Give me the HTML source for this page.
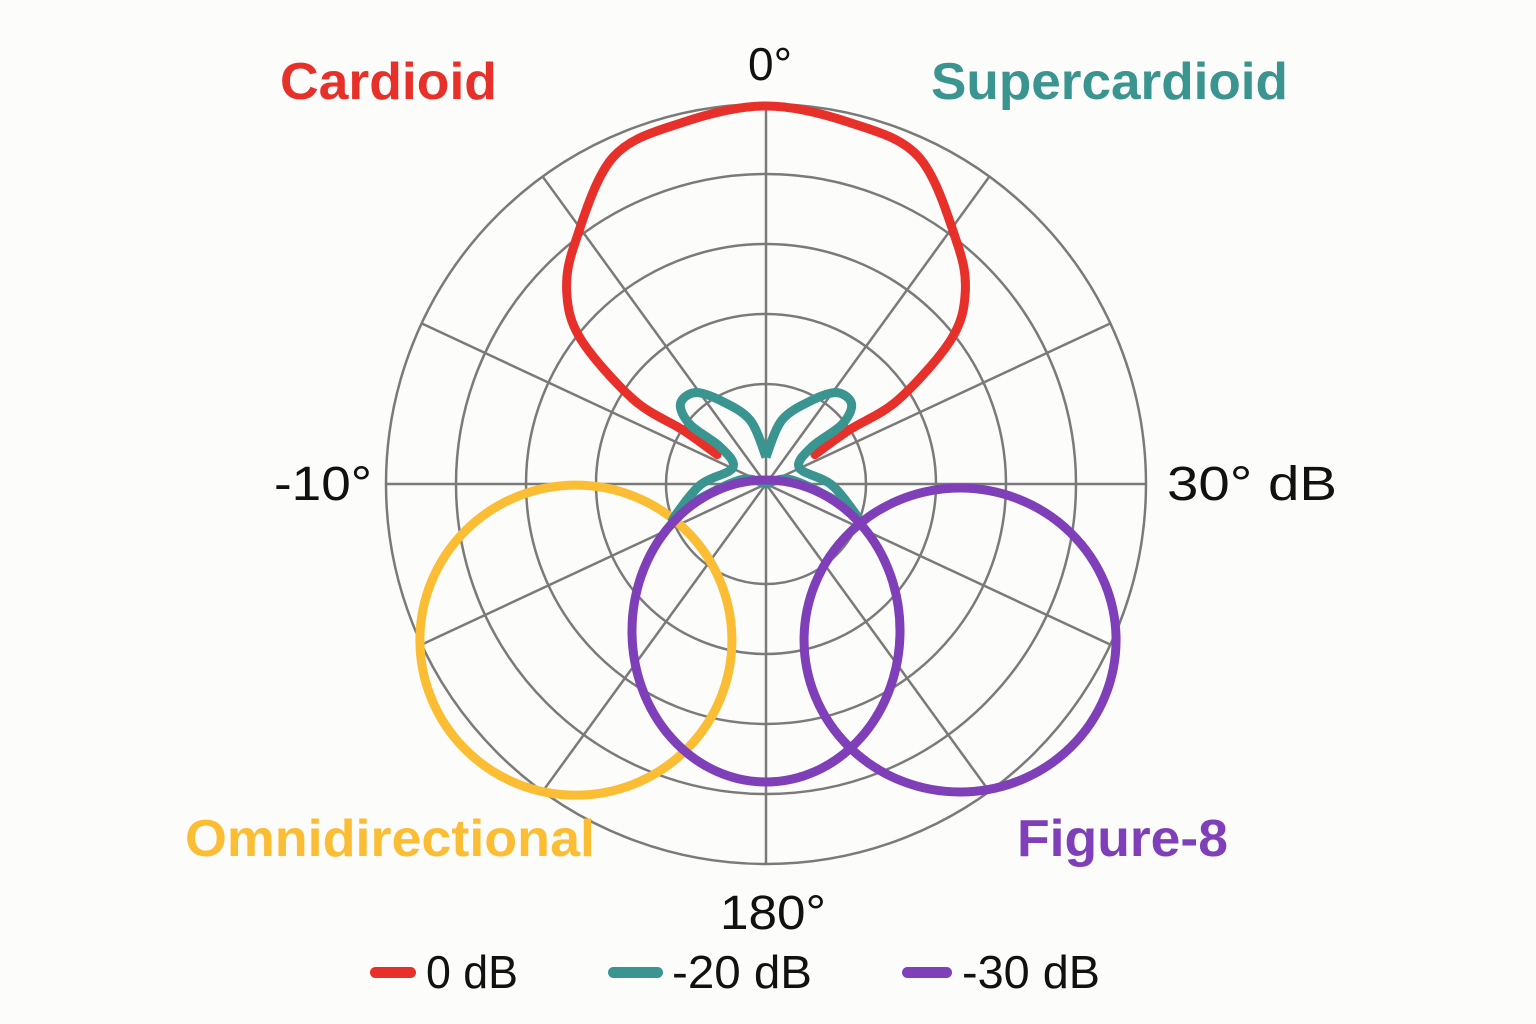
<!DOCTYPE html>
<html><head><meta charset="utf-8"><style>
html,body{margin:0;padding:0;background:#fcfcfb;}
svg{display:block;}
text{font-family:"Liberation Sans","DejaVu Sans",sans-serif;}
</style></head><body>
<svg id="chart" width="1536" height="1024" viewBox="0 0 1536 1024" xmlns="http://www.w3.org/2000/svg">
<rect width="1536" height="1024" fill="#fcfcfb"/>
<g id="grid"></g>
<g id="series"></g>
<g>
<text x="770" y="80" font-size="46" text-anchor="middle" fill="#111">0°</text>
<text x="280" y="99" font-size="52" font-weight="bold" fill="#e8302a" textLength="217" lengthAdjust="spacingAndGlyphs">Cardioid</text>
<text x="931" y="99" font-size="52" font-weight="bold" fill="#3a9490" textLength="357" lengthAdjust="spacingAndGlyphs">Supercardioid</text>
<text x="274" y="500" font-size="48" fill="#111" textLength="98" lengthAdjust="spacingAndGlyphs">-10°</text>
<text x="1167" y="500" font-size="48" fill="#111" textLength="170" lengthAdjust="spacingAndGlyphs">30°  dB</text>
<text x="185" y="856" font-size="52" font-weight="bold" fill="#fbbd33" textLength="410" lengthAdjust="spacingAndGlyphs">Omnidirectional</text>
<text x="1017" y="856" font-size="52" font-weight="bold" fill="#7f3fb8" textLength="211" lengthAdjust="spacingAndGlyphs">Figure-8</text>
<text x="720" y="929" font-size="48" fill="#111" textLength="106" lengthAdjust="spacingAndGlyphs">180°</text>
</g>
<g>
<g>
<rect x="370" y="967" width="46" height="11" rx="5.5" fill="#e8302a"/>
<text x="426" y="988" font-size="46" fill="#111" textLength="92" lengthAdjust="spacingAndGlyphs">0 dB</text>
</g>
<g>
<rect x="608" y="967" width="55" height="11" rx="5.5" fill="#3a9490"/>
<text x="672" y="988" font-size="46" fill="#111" textLength="140" lengthAdjust="spacingAndGlyphs">-20 dB</text>
</g>
<g>
<rect x="902" y="967" width="50" height="11" rx="5.5" fill="#7f3fb8"/>
<text x="962" y="988" font-size="46" fill="#111" textLength="138" lengthAdjust="spacingAndGlyphs">-30 dB</text>
</g>
</g>
</svg>
<script>
// ---- data ----
const ringValues = [100, 170, 240, 310, 380];
const spokeAngles = [0, 36, 65, 90, 115, 144, 180, 216, 245, 270, 295, 324];
// cardioid: ordered (angle deg, radius) points, left half from top, mirrored
const cardioidAngles = [0, 13, 25, 38, 46, 52, 57.5, 57, 59];
const cardioidRadii  = [378, 371, 361, 309, 277, 235, 157, 99, 57];
// supercardioid: ordered points of left half
const superAngles = [0, 14, 29, 38, 47, 52, 51, 64, 91, 111, 105, 81, 0];
const superRadii  = [27, 66, 96, 116, 117, 96, 59, 37, 66, 100, 79, 26, 0];
// omnidirectional lobe: center angle, center distance, radius x, radius y
const omniCenterAngle = [230.6];
const omniCenterDist = [246];
const omniRadiusX = [156];
const omniRadiusY = [155];
// figure-8 lobes
const fig8CenterAngles = [180, 128.8];
const fig8CenterDists = [147, 249];
const fig8RadiiX = [134, 156];
const fig8RadiiY = [151, 152];

// ---- axes ----
const CX = 766, CY = 484, RMAX = 380, VMAX = 380;
const rScale = v => v / VMAX * RMAX;
function px(angle, r){ const a = angle*Math.PI/180; return [CX + rScale(r)*Math.sin(a), CY - rScale(r)*Math.cos(a)]; }

const NS = "http://www.w3.org/2000/svg";
const grid = document.getElementById('grid');
const series = document.getElementById('series');
function mk(tag, attrs, parent){ const e = document.createElementNS(NS, tag); for (const k in attrs) e.setAttribute(k, attrs[k]); parent.appendChild(e); return e; }

ringValues.forEach((v,i)=>{
  const c = mk('circle', {cx:CX, cy:CY, r:rScale(v), fill:'none', stroke:'#7a7a7a', 'stroke-width':2.5}, grid);
  
  
});
spokeAngles.forEach(a=>{
  const [x,y] = px(a, ringValues[ringValues.length-1]);
  const l = mk('line', {x1:CX, y1:CY, x2:x, y2:y, stroke:'#7a7a7a', 'stroke-width':2.5}, grid);
  
  
});

function smoothPath(pts, closed){
  const n = pts.length; let d = 'M'+pts[0][0].toFixed(1)+','+pts[0][1].toFixed(1);
  const P = i => closed ? pts[(i+n)%n] : pts[Math.max(0,Math.min(n-1,i))];
  const last = closed ? n : n-1;
  for (let i=0;i<last;i++){
    const p0=P(i-1),p1=P(i),p2=P(i+1),p3=P(i+2);
    const c1=[p1[0]+(p2[0]-p0[0])/6, p1[1]+(p2[1]-p0[1])/6];
    const c2=[p2[0]-(p3[0]-p1[0])/6, p2[1]-(p3[1]-p1[1])/6];
    d+=' C'+c1[0].toFixed(1)+','+c1[1].toFixed(1)+' '+c2[0].toFixed(1)+','+c2[1].toFixed(1)+' '+p2[0].toFixed(1)+','+p2[1].toFixed(1);
  }
  return d + (closed?' Z':'');
}
function mirrored(angles, radii){
  const left = angles.map((a,i)=>px(-a, radii[i]));
  const right = angles.map((a,i)=>px(a, radii[i])).reverse();
  return left.concat(right);
}

// omni
omniCenterAngle.forEach((a,i)=>{
  const [x,y] = px(a, omniCenterDist[i]);
  const e = mk('ellipse', {cx:x, cy:y, rx:rScale(omniRadiusX[i]), ry:rScale(omniRadiusY[i]), fill:'none', stroke:'#fbbd33', 'stroke-width':9}, series);
  
  
});
// cardioid (open tail)
{
  const left = cardioidAngles.map((a,i)=>px(-a, cardioidRadii[i])).reverse();
  const right = cardioidAngles.map((a,i)=>px(a, cardioidRadii[i])).slice(1);
  const p = mk('path', {d:smoothPath(left.concat(right), false), fill:'none', stroke:'#e8302a', 'stroke-width':9, 'stroke-linecap':'round'}, series);
  
  
}
// supercardioid
{
  const left = superAngles.map((a,i)=>px(-a, superRadii[i]));
  const right = superAngles.map((a,i)=>px(a, superRadii[i]));
  const pl = mk('path', {d:smoothPath(left, false), fill:'none', stroke:'#3a9490', 'stroke-width':9, 'stroke-linejoin':'round'}, series);
  
  
  const pr = mk('path', {d:smoothPath(right, false), fill:'none', stroke:'#3a9490', 'stroke-width':9, 'stroke-linejoin':'round'}, series);
  
  
}
// figure-8
fig8CenterAngles.forEach((a,i)=>{
  const [x,y] = px(a, fig8CenterDists[i]);
  const e = mk('ellipse', {cx:x, cy:y, rx:rScale(fig8RadiiX[i]), ry:rScale(fig8RadiiY[i]), fill:'none', stroke:'#7f3fb8', 'stroke-width':9}, series);
  
  
});
</script>
</body></html>
